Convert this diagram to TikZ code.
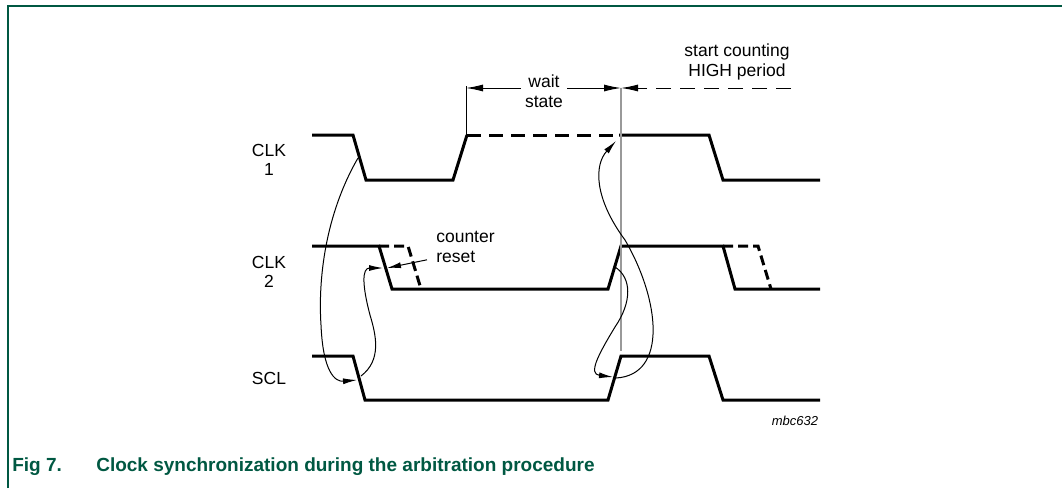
\documentclass[tikz,border=0pt]{standalone}
\usepackage{fontspec}
\setmainfont{Liberation Sans}
\usepackage{xcolor}
\usetikzlibrary{arrows.meta}
\usetikzlibrary{calc}
\usetikzlibrary{positioning}
\definecolor{figgreen}{RGB}{0,88,66}

\begin{document}
\begin{tikzpicture}[x=1pt, y=-1pt, semithick]
    \tikzstyle{wave}=[line width=3pt, line join=miter]
    \tikzstyle{wavedash}=[wave, dash pattern=on 14pt off 8pt]
    \tikzstyle{hair}=[line width=1pt]
    \tikzstyle{lbl}=[font=\fontsize{17.5}{19.5}\selectfont, align=center, inner sep=1pt]
    \tikzstyle{tip}=[-{Latex[length=14pt,width=6pt]}]
    \tikzstyle{dimtip}=[-{Latex[length=17pt,width=7pt]}]
    \tikzstyle{capt}=[font=\fontsize{19}{21}\selectfont\bfseries, text=figgreen, anchor=west, inner sep=0pt]
\useasboundingbox (0,0) rectangle (1062,488);
% frame
\draw[figgreen, line width=2pt] (8,488) -- (8,6) -- (1062,6);
% signal names
    \node[lbl] (clk1) at (269,160) {CLK\\1};
    \node[lbl] (clk2) at (269,272) {CLK\\2};
    \node[lbl] (scl) at (269,378) {SCL};
% CLK 1
\draw[wave] (312,135) -- (353,135) -- (366,180) -- (453,180) -- (467,135);
\draw[wavedash] (467,135) -- (619,135);
\draw[wave] (619,135) -- (709,135) -- (723,180) -- (820,180);
% CLK 2
\draw[wave] (312,246) -- (379,246) -- (392,289) -- (608,289) -- (621,246)
      -- (723,246) -- (735,289) -- (820,289);
\draw[wave, dash pattern=on 10pt off 5pt] (379,246) -- (408,246) -- (421,289);
\draw[wave, dash pattern=on 10pt off 5pt] (723,246) -- (758,246) -- (771,289);
% SCL
\draw[wave] (312,356) -- (353,356) -- (365,400) -- (608,400) -- (621,356)
      -- (709,356) -- (723,400) -- (820,400);
% timing marks
\draw[gray!80, line width=2pt] (621,88) -- (621,351);
\draw[hair] (466,86) -- (466,136);
    \coordinate (wl) at (466,88);
    \coordinate (wr) at (621,88);
    \coordinate (hend) at (791,88);
    \node[lbl] (wait) at (544,91) {wait\\state};
    \node[lbl] (high) at (737,62) {start counting\\HIGH period};
\draw[hair, dimtip] (wait.west |- wl) ++(-3,0) -- (wl);
\draw[hair, dimtip] (wait.east |- wr) ++(3,0) -- (wr);
\draw[hair, dimtip, dash pattern=on 15pt off 9pt] (hend) -- (wr);
% counter reset
    \node[lbl, align=left, anchor=west] (reset) at (435,247) {counter\\reset};
    \coordinate (c2f) at (387,268);
\draw[hair, tip] (reset.south west) ++(-8,-4) -- (c2f);
% sync arrows
    \coordinate (c1f) at (358,158);
    \coordinate (sf) at (357,380);
    \coordinate (sfo) at (361,376);
    \coordinate (c2fi) at (383,268);
    \coordinate (c2r) at (615,267);
    \coordinate (sr) at (613,377);
    \coordinate (sro) at (616,378);
    \coordinate (c1r) at (616,141);
\draw[hair, tip] (c1f) .. controls (325,215) and (318,280) .. (321,325)
      .. controls (323,372) and (335,382) .. (sf);
\draw[hair, tip] (sfo) .. controls (382,360) and (376,335) .. (370,315)
      .. controls (362,285) and (362,268) .. (c2fi);
\draw[hair, tip] (c2r) .. controls (632,278) and (632,302) .. (615,327)
      .. controls (598,355) and (588,374) .. (sr);
\draw[hair, tip] (sro) .. controls (668,375) and (660,300) .. (625,240)
      .. controls (594,198) and (594,165) .. (c1r);
% reference code
    \node[font=\fontsize{13}{15}\selectfont\itshape] (code) at (795,421) {mbc632};
% caption
    \node[capt] (fig) at (12,467) {Fig 7.};
    \node[capt] (title) at (96,467) {Clock synchronization during the arbitration procedure};
\end{tikzpicture}
\end{document}
